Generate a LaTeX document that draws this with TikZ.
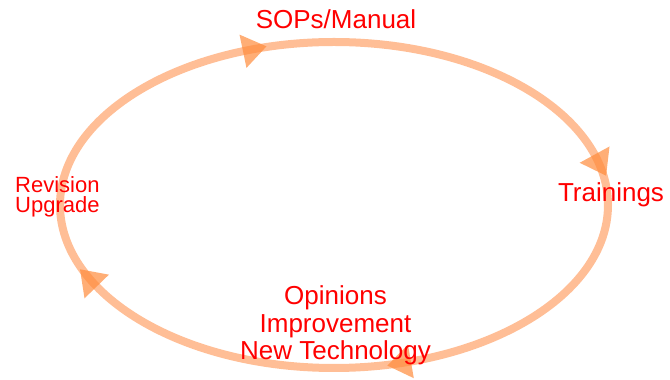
\documentclass[tikz,border=0pt]{standalone}
\usepackage{fontspec}
\setmainfont{Liberation Sans}
\definecolor{ringc}{RGB}{255,190,150}
\definecolor{headc}{RGB}{255,140,60}
\definecolor{labc}{RGB}{255,0,0}
\tikzset{
  ring/.style={draw=ringc, line width=8pt},
  headfill/.style={fill=headc, fill opacity=0.7},
  biglab/.style={text=labc, font=\fontsize{26}{27.5}\selectfont, inner sep=0pt, align=center},
  smalllab/.style={text=labc, font=\fontsize{22}{20.5}\selectfont, inner sep=0pt, align=left},
}
\newcommand\cyclehead[1]{%
  \begin{scope}[shift={({334+274*cos(#1)},{175+163*sin(#1)})},
                rotate={atan2(-163*cos(#1),274*sin(#1))}]
    \fill[headfill] (0,-17) -- (24,0) -- (0,17) -- cycle;
  \end{scope}}
\begin{document}
\begin{tikzpicture}[x=1pt,y=1pt]
  \useasboundingbox (0,0) rectangle (670,380);
  \draw[ring] (334,175) ellipse [x radius=274, y radius=163];
  \cyclehead{109.4}
  \cyclehead{18}
  \cyclehead{-73.7}
  \cyclehead{210}
  \node[biglab, anchor=base] (sops) at (336,351) {SOPs/Manual};
  \node[biglab, anchor=base] (train) at (611,178) {Trainings};
  \node[smalllab, anchor=base west] (rev) at (15,167) {Revision\\Upgrade};
  \node[biglab, anchor=base] (opin) at (335.5,20) {Opinions\\Improvement\\New Technology};
\end{tikzpicture}
\end{document}
